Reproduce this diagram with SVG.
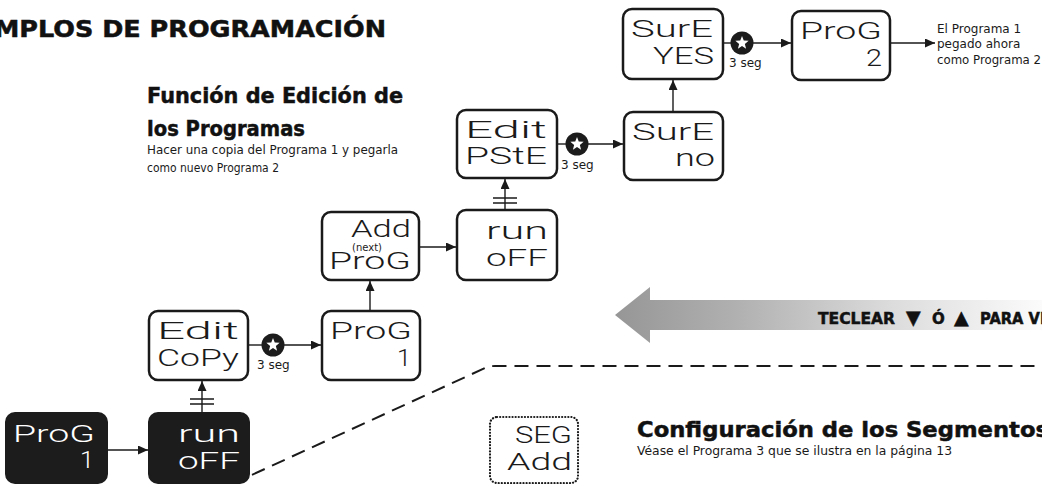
<svg xmlns="http://www.w3.org/2000/svg" width="1042" height="484" viewBox="0 0 1042 484">
<style>
.box{fill:#fff;stroke:#1a1a1a;stroke-width:2.5}
.boxk{fill:#1c1c1c;stroke:#1c1c1c;stroke-width:2}
.dot{fill:#fff;stroke:#1a1a1a;stroke-width:2.2;stroke-dasharray:0.1 3;stroke-linecap:round}
.lcd{font-family:Roboto,"DejaVu Sans Mono",monospace;font-weight:300;font-size:24px;fill:#1a1a1a}
.lcdw{font-family:Roboto,"DejaVu Sans Mono",monospace;font-weight:300;font-size:24px;fill:#fff}
.ln{fill:none;stroke:#1a1a1a;stroke-width:1.4}
.sec{font-family:"DejaVu Sans","Liberation Sans",sans-serif;font-size:12px;fill:#1a1a1a}
.h1{font-family:"DejaVu Sans","Liberation Sans",sans-serif;font-weight:bold;fill:#111;stroke:#111;stroke-width:0.5}
.body{font-family:"DejaVu Sans","Liberation Sans",sans-serif;fill:#1a1a1a}
</style>
<defs>
<marker id="ah" markerUnits="userSpaceOnUse" markerWidth="11" markerHeight="10" refX="10" refY="4.5" orient="auto">
<path d="M0,0 L10,4.5 L0,9 z" fill="#1a1a1a"/>
</marker>
<g id="timer">
<circle r="11.5" fill="#1c1c1c"/>
<polygon fill="#fff" points="0,-7 1.75,-2.4 6.65,-2.16 2.85,0.93 4.11,5.66 0,3 -4.11,5.66 -2.85,0.93 -6.65,-2.16 -1.75,-2.4"/>
</g>
<linearGradient id="gg" gradientUnits="userSpaceOnUse" x1="615" y1="0" x2="1042" y2="0">
<stop offset="0" stop-color="#969696"/>
<stop offset="0.3" stop-color="#b2b2b2"/>
<stop offset="0.65" stop-color="#dcdcdc"/>
<stop offset="1" stop-color="#fbfbfb"/>
</linearGradient>
</defs>

<text class="h1" x="-6" y="37" font-size="22.5" textLength="392" lengthAdjust="spacingAndGlyphs">MPLOS DE PROGRAMACIÓN</text>

<g id="heading">
<text class="h1" x="147" y="103" font-size="22" textLength="256" lengthAdjust="spacingAndGlyphs">Función de Edición de</text>
<text class="h1" x="147" y="136" font-size="22" textLength="158" lengthAdjust="spacingAndGlyphs">los Programas</text>
<text class="body" x="147" y="154" font-size="12.5" textLength="251" lengthAdjust="spacingAndGlyphs">Hacer una copia del Programa 1 y pegarla</text>
<text class="body" x="147" y="172" font-size="12.5" textLength="132" lengthAdjust="spacingAndGlyphs">como nuevo Programa 2</text>
</g>

<g id="scroll-arrow">
<polygon points="615,315 650,287 650,300 1042,300 1042,330 650,330 650,343" fill="url(#gg)"/>
<text class="h1" y="324" font-size="15"><tspan x="818" textLength="77" lengthAdjust="spacingAndGlyphs">TECLEAR</tspan><tspan x="906" font-size="19">▼</tspan><tspan x="932">Ó</tspan><tspan x="954" font-size="19">▲</tspan><tspan x="980" textLength="70" lengthAdjust="spacingAndGlyphs">PARA VE</tspan></text>
</g>

<path d="M232,484 L485,368 Q489,366 495,366 H1042" fill="none" stroke="#1a1a1a" stroke-width="2" stroke-dasharray="14 8"/>

<g id="connectors">
<path class="ln" d="M107,450 H148" marker-end="url(#ah)"/>
<path class="ln" d="M202,413 V381" marker-end="url(#ah)"/>
<path class="ln" d="M190,399 H214 M190,404 H214"/>
<path class="ln" d="M248,345 H262"/>
<path class="ln" d="M284,345 H321" marker-end="url(#ah)"/>
<path class="ln" d="M370,311 V281" marker-end="url(#ah)"/>
<path class="ln" d="M419,247 H456" marker-end="url(#ah)"/>
<path class="ln" d="M505,210 V179" marker-end="url(#ah)"/>
<path class="ln" d="M493,198 H517 M493,203 H517"/>
<path class="ln" d="M557,144 H566"/>
<path class="ln" d="M588,144 H623" marker-end="url(#ah)"/>
<path class="ln" d="M673,112 V80" marker-end="url(#ah)"/>
<path class="ln" d="M723,43 H731"/>
<path class="ln" d="M753,43 H791" marker-end="url(#ah)"/>
<path class="ln" d="M890,43 H935" marker-end="url(#ah)"/>
<use href="#timer" x="273" y="345"/>
<use href="#timer" x="577" y="144"/>
<use href="#timer" x="742" y="43"/>
<text class="sec" x="257" y="369">3 seg</text>
<text class="sec" x="561" y="169">3 seg</text>
<text class="sec" x="729" y="67">3 seg</text>
</g>

<g id="n-prog1-black">
<rect class="boxk" x="6" y="413" width="101" height="70" rx="9"/>
<text class="lcdw" x="13" y="442" textLength="82" lengthAdjust="spacingAndGlyphs">ProG</text>
<text class="lcdw" x="80" y="468" textLength="14" lengthAdjust="spacingAndGlyphs">1</text>
</g>
<g id="n-runoff-black">
<rect class="boxk" x="149" y="413" width="100" height="70" rx="9"/>
<text class="lcdw" x="178" y="442" textLength="62" lengthAdjust="spacingAndGlyphs">run</text>
<text class="lcdw" x="178" y="469" textLength="62" lengthAdjust="spacingAndGlyphs">oFF</text>
</g>
<g id="n-editcopy">
<rect class="box" x="149" y="311" width="99" height="69" rx="9"/>
<text class="lcd" x="157" y="339" textLength="82" lengthAdjust="spacingAndGlyphs">Edit</text>
<text class="lcd" x="157" y="366" textLength="82" lengthAdjust="spacingAndGlyphs">CoPy</text>
</g>
<g id="n-prog1">
<rect class="box" x="322" y="311" width="98" height="69" rx="9"/>
<text class="lcd" x="330" y="339" textLength="82" lengthAdjust="spacingAndGlyphs">ProG</text>
<text class="lcd" x="397" y="366" textLength="14" lengthAdjust="spacingAndGlyphs">1</text>
</g>
<g id="n-addprog">
<rect class="box" x="322" y="212" width="97" height="68" rx="9"/>
<text class="lcd" x="351" y="237" textLength="60" lengthAdjust="spacingAndGlyphs">Add</text>
<text class="body" x="367" y="251" font-size="10" text-anchor="middle">(next)</text>
<text class="lcd" x="329" y="269" textLength="82" lengthAdjust="spacingAndGlyphs">ProG</text>
</g>
<g id="n-runoff">
<rect class="box" x="457" y="210" width="100" height="70" rx="9"/>
<text class="lcd" x="486" y="239" textLength="62" lengthAdjust="spacingAndGlyphs">run</text>
<text class="lcd" x="486" y="266" textLength="62" lengthAdjust="spacingAndGlyphs">oFF</text>
</g>
<g id="n-editpste">
<rect class="box" x="457" y="110" width="100" height="68" rx="9"/>
<text class="lcd" x="465" y="138" textLength="82" lengthAdjust="spacingAndGlyphs">Edit</text>
<text class="lcd" x="465" y="164" textLength="82" lengthAdjust="spacingAndGlyphs">PStE</text>
</g>
<g id="n-sureno">
<rect class="box" x="624" y="112" width="99" height="68" rx="9"/>
<text class="lcd" x="632" y="140" textLength="82" lengthAdjust="spacingAndGlyphs">SurE</text>
<text class="lcd" x="675" y="166" textLength="40" lengthAdjust="spacingAndGlyphs">no</text>
</g>
<g id="n-sureyes">
<rect class="box" x="623" y="9" width="100" height="70" rx="9"/>
<text class="lcd" x="631" y="37" textLength="82" lengthAdjust="spacingAndGlyphs">SurE</text>
<text class="lcd" x="653" y="64" textLength="61" lengthAdjust="spacingAndGlyphs">YES</text>
</g>
<g id="n-prog2">
<rect class="box" x="792" y="11" width="98" height="69" rx="9"/>
<text class="lcd" x="800" y="39" textLength="82" lengthAdjust="spacingAndGlyphs">ProG</text>
<text class="lcd" x="866" y="66" textLength="16" lengthAdjust="spacingAndGlyphs">2</text>
</g>
<g id="n-result">
<text class="body" x="937" y="33" font-size="12">El Programa 1</text>
<text class="body" x="937" y="48" font-size="12">pegado ahora</text>
<text class="body" x="937" y="64" font-size="12" textLength="104" lengthAdjust="spacingAndGlyphs">como Programa 2</text>
</g>

<g id="n-segadd">
<rect class="dot" x="490" y="417" width="88" height="66" rx="7"/>
<text class="lcd" x="515" y="443" font-size="22" textLength="57" lengthAdjust="spacingAndGlyphs">SEG</text>
<text class="lcd" x="507" y="470" font-size="22" textLength="65" lengthAdjust="spacingAndGlyphs">Add</text>
</g>

<g id="segments-heading">
<text class="h1" x="637" y="437" font-size="21" textLength="412" lengthAdjust="spacingAndGlyphs">Configuración de los Segmentos</text>
<text class="body" x="637" y="455" font-size="12" textLength="315" lengthAdjust="spacingAndGlyphs">Véase el Programa 3 que se ilustra en la página 13</text>
</g>
</svg>
